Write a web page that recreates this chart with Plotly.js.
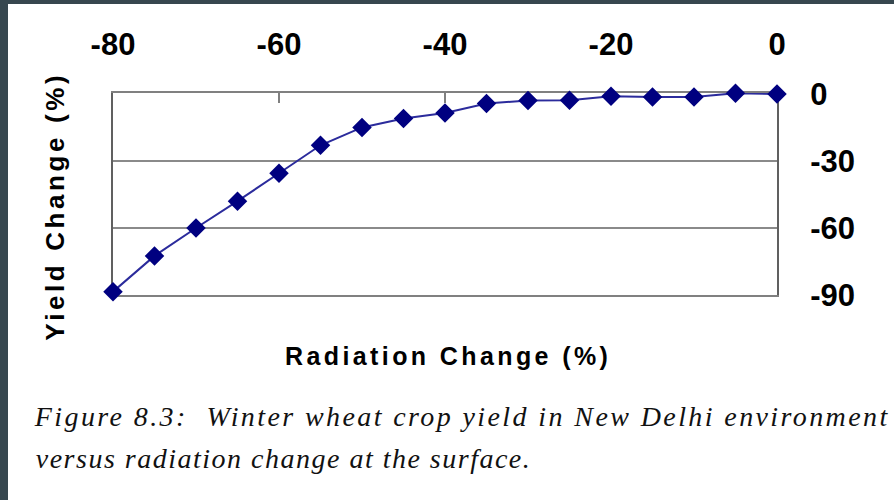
<!DOCTYPE html>
<html>
<head>
<meta charset="utf-8">
<script src="https://cdn.plot.ly/plotly-3.0.1.min.js"></script>
<style>
html, body { margin: 0; padding: 0; background: #37474f; width: 894px; height: 500px; overflow: hidden; }
#chart { position: absolute; left: 8px; top: 4px; width: 886px; height: 496px; background: #ffffff; }
#chart g.annotation[data-index="0"] text { letter-spacing: 3.6px; }
#chart g.annotation[data-index="1"] text { letter-spacing: 3.4px; }
#chart g.annotation[data-index="2"] text { letter-spacing: 2.4px; }
#chart g.annotation[data-index="3"] text { letter-spacing: 1.5px; }
</style>
</head>
<body>
<div id="chart"></div>
<script>
// Data
const radiationChange = [-80, -75, -70, -65, -60, -55, -50, -45, -40, -35, -30, -25, -20, -15, -10, -5, 0];
const yieldChange = [-88.5, -72.5, -60, -48, -35.5, -23, -15, -11, -8.5, -4.3, -3, -2.8, -1, -1.4, -1.4, 0.3, 0];
const xTickValues = [-80, -60, -40, -20, 0];
const yTickValues = [0, -30, -60, -90];
const xTitle = "Radiation Change (%)";
const yTitle = "Yield Change (%)";
const captionLine1 = "Figure 8.3:  Winter wheat crop yield in New Delhi environment";
const captionLine2 = "versus radiation change at the surface.";

const trace = {
  x: radiationChange,
  y: yieldChange,
  type: "scatter",
  mode: "lines+markers",
  line: { color: "#2b2b9c", width: 2 },
  marker: { symbol: "diamond", size: 15, color: "#000080" },
  cliponaxis: false,
  hoverinfo: "x+y"
};

const tickFont = { family: "Liberation Sans, Arial, sans-serif", size: 31, color: "#000", weight: "bold" };

const layout = {
  width: 886,
  height: 496,
  margin: { l: 105, r: 117, t: 89, b: 205 },
  paper_bgcolor: "#ffffff",
  plot_bgcolor: "#ffffff",
  showlegend: false,
  xaxis: {
    side: "top",
    range: [-80, 0],
    tickvals: xTickValues,
    ticktext: xTickValues.map(String),
    ticks: "inside",
    ticklen: 10,
    tickwidth: 2,
    tickcolor: "#808080",
    showline: true,
    linecolor: "#808080",
    linewidth: 2,
    mirror: true,
    showgrid: false,
    zeroline: false,
    layer: "below traces",
    tickfont: tickFont,
    ticklabelstandoff: 24
  },
  yaxis: {
    side: "right",
    range: [-90, 0.4],
    tickvals: yTickValues,
    ticktext: yTickValues.map(String),
    ticks: "",
    showline: true,
    linecolor: "#606060",
    linewidth: 2,
    mirror: true,
    showgrid: true,
    gridcolor: "#8a8a8a",
    gridwidth: 2,
    zeroline: false,
    layer: "below traces",
    tickfont: tickFont,
    ticklabelstandoff: 25
  },
  annotations: [
    {
      text: yTitle, xref: "paper", yref: "paper",
      x: -0.0875, y: 0.44, xanchor: "center", yanchor: "middle",
      textangle: -90, showarrow: false,
      font: { family: "Liberation Sans, Arial, sans-serif", size: 26, color: "#000", weight: "bold" }
    },
    {
      text: xTitle, xref: "paper", yref: "paper",
      x: 0.505, y: -0.30, xanchor: "center", yanchor: "middle",
      showarrow: false,
      font: { family: "Liberation Sans, Arial, sans-serif", size: 25, color: "#000", weight: "bold" }
    },
    {
      text: "<i>" + captionLine1 + "</i>", xref: "paper", yref: "paper",
      x: 0.527, y: -0.60, xanchor: "center", yanchor: "middle",
      showarrow: false,
      font: { family: "Liberation Serif, serif", size: 28, color: "#111" }
    },
    {
      text: "<i>" + captionLine2 + "</i>", xref: "paper", yref: "paper",
      x: 0.257, y: -0.81, xanchor: "center", yanchor: "middle",
      showarrow: false,
      font: { family: "Liberation Serif, serif", size: 28, color: "#111" }
    }
  ]
};

Plotly.newPlot("chart", [trace], layout, { displayModeBar: false, staticPlot: true });
</script>
</body>
</html>
